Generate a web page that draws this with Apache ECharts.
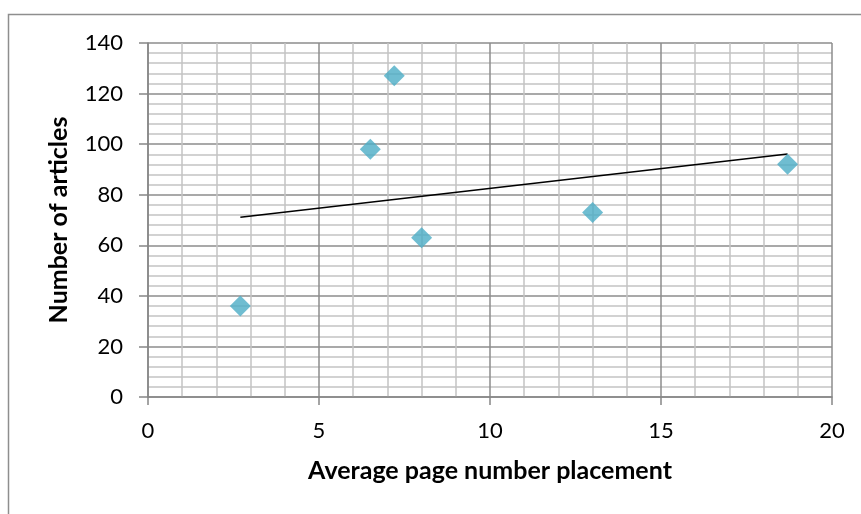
<!DOCTYPE html>
<html>
<head>
<meta charset="utf-8">
<script src="https://cdn.jsdelivr.net/npm/echarts@6/dist/echarts.min.js"></script>
<style>
  html, body { margin: 0; padding: 0; background: #fff; }
  #chart { width: 861px; height: 514px; }
</style>
</head>
<body>
<div id="chart"></div>
<script>
// Average page number placement vs. number of articles
const placement = [2.7, 6.5, 7.2, 8.0, 13.0, 18.7];
const articles = [36, 98, 127, 63, 73, 92];
const xTicks = [0, 5, 10, 15, 20];
const yTicks = [0, 20, 40, 60, 80, 100, 120, 140];

const points = placement.map((x, i) => [x, articles[i]]);

// Least-squares linear trendline across the data range
function linearTrend(xs, ys) {
  const n = xs.length;
  const mx = xs.reduce((a, b) => a + b, 0) / n;
  const my = ys.reduce((a, b) => a + b, 0) / n;
  let sxy = 0, sxx = 0;
  for (let i = 0; i < n; i++) {
    sxy += (xs[i] - mx) * (ys[i] - my);
    sxx += (xs[i] - mx) * (xs[i] - mx);
  }
  const slope = sxy / sxx;
  const icpt = my - slope * mx;
  const x0 = Math.min(...xs), x1 = Math.max(...xs);
  return [[x0, icpt + slope * x0], [x1, icpt + slope * x1]];
}
const trend = linearTrend(placement, articles);

const font = 'Lato, "Open Sans", sans-serif';
const chart = echarts.init(document.getElementById('chart'), null, { renderer: 'canvas' });

chart.setOption({
  animation: false,
  backgroundColor: '#fff',
  graphic: [{
    type: 'rect',
    shape: { x: 8.5, y: 14.5, width: 900, height: 600 },
    style: { fill: 'none', stroke: '#8e8e8e', lineWidth: 1.5 },
    silent: true
  }],
  grid: { left: 148, right: 29, top: 43, bottom: 117 },
  xAxis: {
    type: 'value',
    min: xTicks[0],
    max: xTicks[xTicks.length - 1],
    interval: 5,
    name: 'Average page number placement',
    nameLocation: 'middle',
    nameGap: 61,
    nameTextStyle: { fontFamily: font, fontWeight: 'bold', fontSize: 25, color: '#000' },
    axisLine: { show: true, lineStyle: { color: '#868686', width: 1.5 } },
    axisTick: { show: true, length: 8, lineStyle: { color: '#868686', width: 1.5 } },
    axisLabel: { margin: 23, fontFamily: font, fontSize: 22, color: '#000' },
    splitLine: { show: true, lineStyle: { color: '#8c8c8c', width: 1.5 } },
    minorTick: { show: false, splitNumber: 5 },
    minorSplitLine: { show: true, lineStyle: { color: '#c4c4c4', width: 1.5 } }
  },
  yAxis: {
    type: 'value',
    min: yTicks[0],
    max: yTicks[yTicks.length - 1],
    interval: 20,
    name: 'Number of articles',
    nameLocation: 'middle',
    nameGap: 77,
    nameTextStyle: { fontFamily: font, fontWeight: 'bold', fontSize: 25, color: '#000' },
    axisLine: { show: true, lineStyle: { color: '#868686', width: 1.5 } },
    axisTick: { show: true, length: 9, lineStyle: { color: '#868686', width: 1.5 } },
    axisLabel: { margin: 25, fontFamily: font, fontSize: 22, color: '#000' },
    splitLine: { show: true, lineStyle: { color: '#8c8c8c', width: 1.5 } },
    minorTick: { show: false, splitNumber: 5 },
    minorSplitLine: { show: true, lineStyle: { color: '#c4c4c4', width: 1.5 } }
  },
  series: [
    {
      type: 'line',
      data: trend,
      showSymbol: false,
      symbol: 'none',
      lineStyle: { color: '#000', width: 1.5 },
      z: 3
    },
    {
      type: 'scatter',
      data: points,
      symbol: 'diamond',
      symbolSize: [21, 21],
      itemStyle: { color: '#4BACC6' },
      z: 4
    }
  ]
});
</script>
</body>
</html>
